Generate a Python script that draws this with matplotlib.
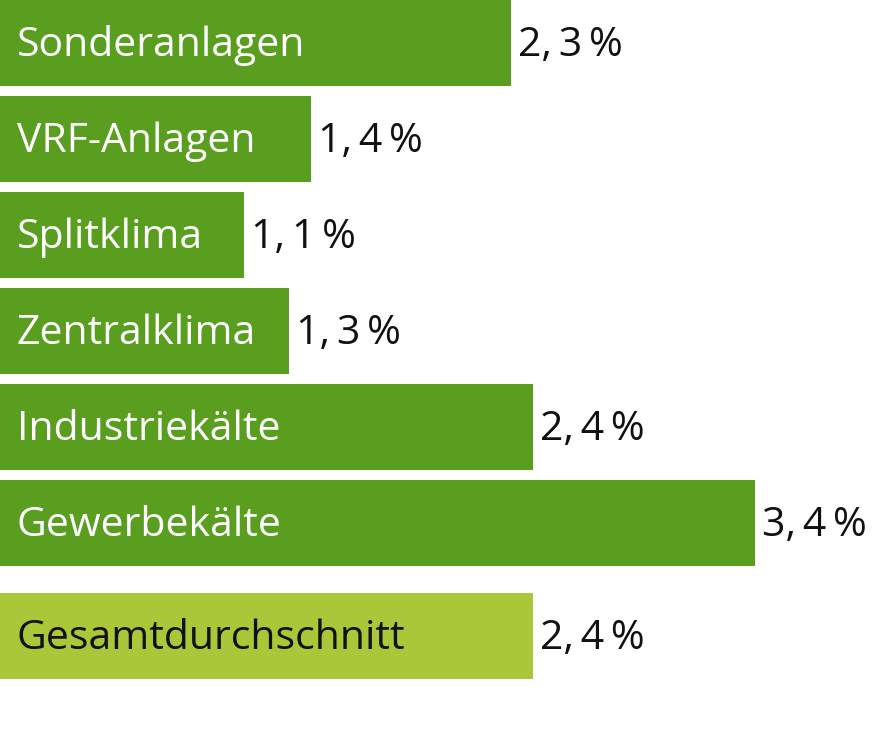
import numpy as np
import matplotlib
matplotlib.use("Agg")
from matplotlib import pyplot as plt

# data
categories = ["Sonderanlagen", "VRF-Anlagen", "Splitklima", "Zentralklima",
              "Industriekälte", "Gewerbekälte", "Gesamtdurchschnitt"]
values = [2.3, 1.4, 1.1, 1.3, 2.4, 3.4, 2.4]

dark = "#5a9e1f"
light = "#a9c739"

plt.rcParams["font.family"] = ["Open Sans", "DejaVu Sans"]

fig = plt.figure(figsize=(8.72, 7.30), dpi=100)
ax = fig.add_axes([0, 0, 1, 1])

pos = np.arange(len(values), dtype=float)
pos[-1] += 0.18  # extra gap before the average bar
colors = [dark] * (len(values) - 1) + [light]

ax.barh(pos, values, height=0.9, color=colors)

for p, v, c, col in zip(pos, values, categories, colors):
    txtcol = "white" if col == dark else "#111111"
    ax.annotate(c, (0, p), xytext=(12, -2), textcoords="offset points",
                va="center", ha="left", fontsize=29.5, color=txtcol)
    lab = ("%.1f" % v).replace(".", ",\u2009") + "\u2009%"
    ax.annotate(lab, (v, p), xytext=(5, -2), textcoords="offset points",
                va="center", ha="left", fontsize=29.5, color="#111111")

ax.set_xlim(0, 872 / 222)
ax.set_ylim((730 - 43) / 96, -43 / 96)
ax.axis("off")

fig.savefig("out.png", dpi=100)
